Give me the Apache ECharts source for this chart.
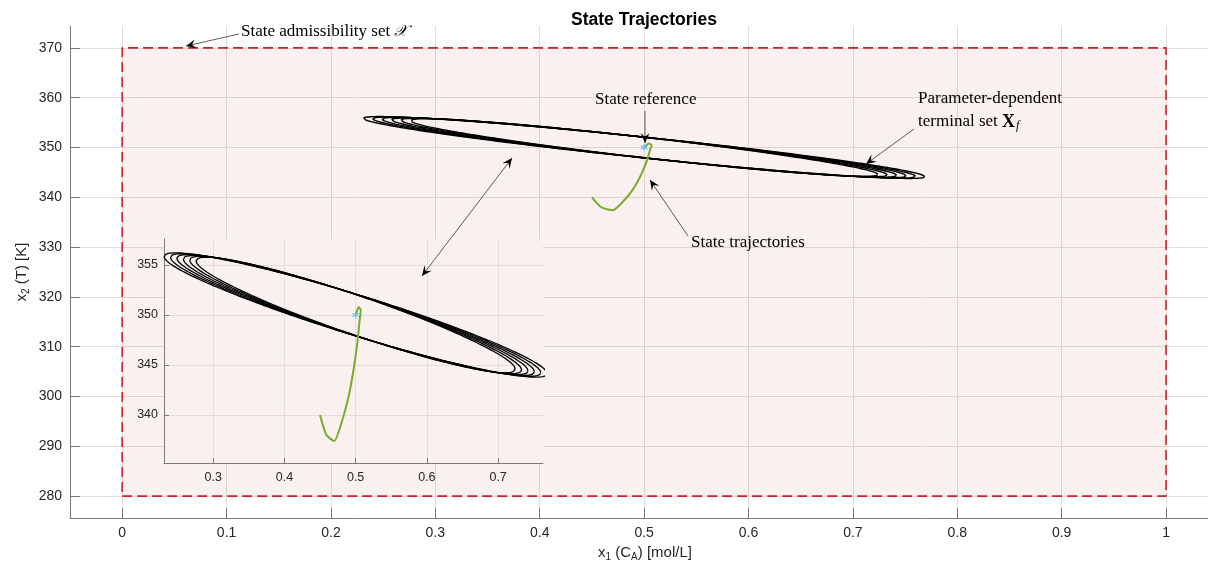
<!DOCTYPE html>
<html>
<head>
<meta charset="utf-8">
<script src="https://cdn.jsdelivr.net/npm/echarts@6/dist/echarts.min.js"></script>
<style>
  html, body { margin: 0; padding: 0; background: #fff; }
  #main { width: 1208px; height: 568px; }
</style>
</head>
<body>
<div id="main"></div>
<script>
// admissible set corners
const setX = [0, 1]
const setY = [280, 370]

// state reference
const refPoint = [0.5, 350]

// closed-loop state trajectory
const trajX = [0.450, 0.459, 0.470, 0.4805, 0.490, 0.497, 0.5024, 0.5052, 0.5072, 0.5043, 0.5015, 0.500]
const trajY = [340.0, 338.0, 337.4, 339.3, 341.8, 344.5, 347.2, 349.2, 350.5, 350.8, 350.3, 350.0]

// terminal set ellipses: half range in x, tip offset in y, half height at centre
const ellA = [0.269, 0.260, 0.251, 0.242, 0.233, 0.224]
const ellB1 = [-5.85, -5.76, -5.67, -5.58, -5.49, -5.40]
const ellB2 = [2.10, 2.09, 2.08, 2.07, 2.06, 2.05]

// tick labels
const mainXTicks = [0, 0.1, 0.2, 0.3, 0.4, 0.5, 0.6, 0.7, 0.8, 0.9, 1]
const mainYTicks = [280, 290, 300, 310, 320, 330, 340, 350, 360, 370]
const insetXTicks = [0.3, 0.4, 0.5, 0.6, 0.7]
const insetYTicks = [340, 345, 350, 355]

const chart = echarts.init(document.getElementById('main'))

const ellipse = (k) => {
  const pts = []
  for (let i = 0; i <= 240; i++) {
    const t = i / 240 * Math.PI * 2
    pts.push([refPoint[0] + ellA[k] * Math.cos(t),
              refPoint[1] + ellB1[k] * Math.cos(t) + ellB2[k] * Math.sin(t)])
  }
  return pts
}

const traj = trajX.map((x, i) => [x, trajY[i]])
const border = [[setX[0], setY[0]], [setX[1], setY[0]], [setX[1], setY[1]], [setX[0], setY[1]], [setX[0], setY[0]]]

const gridColor = '#e3dcdb'
const axisColor = '#7a7a7a'
const txt = '#262626'
const serif = 'Liberation Serif'
const sans = 'Liberation Sans'
const subStyle = { fontSize: 10, padding: [8, 0, 0, 0], fontFamily: sans, color: txt }
const star = 'path://M0,-10L0,10M-8.7,-5L8.7,5M-8.7,5L8.7,-5'

const series = []
// main plot
series.push({
  type: 'line', xAxisIndex: 0, yAxisIndex: 0, data: border, symbol: 'none', z: 3,
  lineStyle: { color: '#cc2229', width: 1.6, type: [10, 5] },
  markArea: {
    silent: true,
    itemStyle: { color: 'rgba(200,90,80,0.09)' },
    data: [[{ coord: [setX[0], setY[0]] }, { coord: [setX[1], setY[1]] }]]
  }
})
ellA.forEach((a, k) => {
  series.push({ type: 'line', xAxisIndex: 0, yAxisIndex: 0, data: ellipse(k), symbol: 'none', z: 4,
    lineStyle: { color: '#000', width: 1.4 } })
})
series.push({ type: 'line', xAxisIndex: 0, yAxisIndex: 0, data: traj, symbol: 'none', smooth: 0.2, z: 5,
  lineStyle: { color: '#77ac30', width: 2 } })
series.push({ type: 'scatter', xAxisIndex: 0, yAxisIndex: 0, data: [refPoint], z: 6,
  symbol: star, symbolSize: 7, itemStyle: { color: 'none', borderColor: '#4dbeee', borderWidth: 1.2 } })
// inset
ellA.forEach((a, k) => {
  series.push({ type: 'line', xAxisIndex: 1, yAxisIndex: 1, data: ellipse(k), symbol: 'none', z: 14,
    lineStyle: { color: '#000', width: 1.3 } })
})
series.push({ type: 'line', xAxisIndex: 1, yAxisIndex: 1, data: traj, symbol: 'none', smooth: 0.2, z: 15,
  lineStyle: { color: '#77ac30', width: 2 } })
series.push({ type: 'scatter', xAxisIndex: 1, yAxisIndex: 1, data: [refPoint], z: 16,
  symbol: star, symbolSize: 7, itemStyle: { color: 'none', borderColor: '#4dbeee', borderWidth: 1.2 } })

// arrow helper, pixel coords
const arrow = (x1, y1, x2, y2, both) => {
  const head = (xa, ya, xb, yb) => {
    const d = Math.hypot(xb - xa, yb - ya), ux = (xb - xa) / d, uy = (yb - ya) / d
    const L = 10, W = 4.5
    return { type: 'polygon', silent: true, z: 100,
      shape: { points: [[xb, yb], [xb - L * ux + W * uy, yb - L * uy - W * ux],
        [xb - 0.6 * L * ux, yb - 0.6 * L * uy], [xb - L * ux - W * uy, yb - L * uy + W * ux]] },
      style: { fill: '#000' } }
  }
  const els = [{ type: 'line', silent: true, z: 100, shape: { x1, y1, x2, y2 },
    style: { stroke: '#333', lineWidth: 0.8 } }, head(x1, y1, x2, y2)]
  if (both) els.push(head(x2, y2, x1, y1))
  return els
}
const label = (x, y, text, rich) => ({ type: 'text', x, y, silent: true, z: 100,
  style: { text, rich: rich || {}, fontFamily: serif, fontSize: 17, fill: '#000', verticalAlign: 'middle' } })

const graphic = [
  { type: 'text', x: 644, y: 20, silent: true, z: 100,
    style: { text: 'State Trajectories', fontFamily: sans, fontSize: 17.5, fontWeight: 'bold', fill: '#000',
      align: 'center', verticalAlign: 'middle' } },
  { type: 'text', x: 645, y: 553, silent: true, z: 100,
    style: { text: 'x{s|1} (C{s|A}) [mol/L]', fontFamily: sans, fontSize: 15, fill: txt,
      align: 'center', verticalAlign: 'middle', rich: { s: subStyle } } },
  label(241, 32, 'State admissibility set {m|𝒳}', { m: { fontFamily: 'DejaVu Serif', fontSize: 16, fontStyle: 'italic' } }),
  ...arrow(239, 34, 186, 46),
  label(595, 100, 'State reference'),
  ...arrow(645, 111, 645, 143),
  label(918, 99, 'Parameter-dependent'),
  label(918, 122, 'terminal set {b|X}{f|f}', {
    b: { fontFamily: serif, fontWeight: 'bold', fontSize: 18 },
    f: { fontFamily: serif, fontStyle: 'italic', fontSize: 12, padding: [8, 0, 0, 1] } }),
  ...arrow(914, 129, 866, 164),
  label(691, 243, 'State trajectories'),
  ...arrow(688, 236, 650, 180),
  ...arrow(422, 276, 512, 158, true)
]

const option = {
  backgroundColor: '#fff',
  animation: false,
  grid: [
    { left: 70, top: 26, right: 0, bottom: 50, outerBoundsMode: 'none', containLabel: false },
    { left: 164, top: 239, width: 379, height: 224, show: true, backgroundColor: '#f9f0ef', borderWidth: 0, z: 10,
      outerBoundsMode: 'none', containLabel: false }
  ],
  xAxis: [
    { gridIndex: 0, type: 'value', min: -0.05, max: 1.0402,
      axisLine: { onZero: false, lineStyle: { color: axisColor } },
      axisTick: { inside: true, length: 10, customValues: mainXTicks, lineStyle: { color: axisColor } },
      axisLabel: { customValues: mainXTicks, margin: 8, fontFamily: sans, fontSize: 14, color: txt },
      splitLine: { show: true, lineStyle: { color: gridColor } } },
    { gridIndex: 1, type: 'value', min: 0.231, max: 0.763, z: 11,
      axisLine: { onZero: false, lineStyle: { color: axisColor } },
      axisTick: { inside: true, length: 5, customValues: insetXTicks, lineStyle: { color: axisColor } },
      axisLabel: { customValues: insetXTicks, margin: 8, fontFamily: sans, fontSize: 12.5, color: txt },
      splitLine: { show: true, lineStyle: { color: gridColor } } }
  ],
  yAxis: [
    { gridIndex: 0, type: 'value', min: 275.6, max: 374.4,
      name: 'x{s|2} (T) [K]', nameLocation: 'middle', nameGap: 39, nameRotate: 90, nameMoveOverlap: false,
      nameTextStyle: { fontFamily: sans, fontSize: 15, color: txt, rich: { s: subStyle } },
      axisLine: { show: true, onZero: false, lineStyle: { color: axisColor } },
      axisTick: { show: true, inside: true, length: 10, customValues: mainYTicks, lineStyle: { color: axisColor } },
      axisLabel: { customValues: mainYTicks, margin: 8, fontFamily: sans, fontSize: 14, color: txt },
      splitLine: { show: true, lineStyle: { color: gridColor } } },
    { gridIndex: 1, type: 'value', min: 335.2, max: 357.6, z: 11,
      axisLine: { show: true, onZero: false, lineStyle: { color: axisColor } },
      axisTick: { show: true, inside: true, length: 5, customValues: insetYTicks, lineStyle: { color: axisColor } },
      axisLabel: { customValues: insetYTicks, margin: 6, fontFamily: sans, fontSize: 12.5, color: txt },
      splitLine: { show: true, lineStyle: { color: gridColor } } }
  ],
  series,
  graphic
}

chart.setOption(option)
</script>
</body>
</html>
